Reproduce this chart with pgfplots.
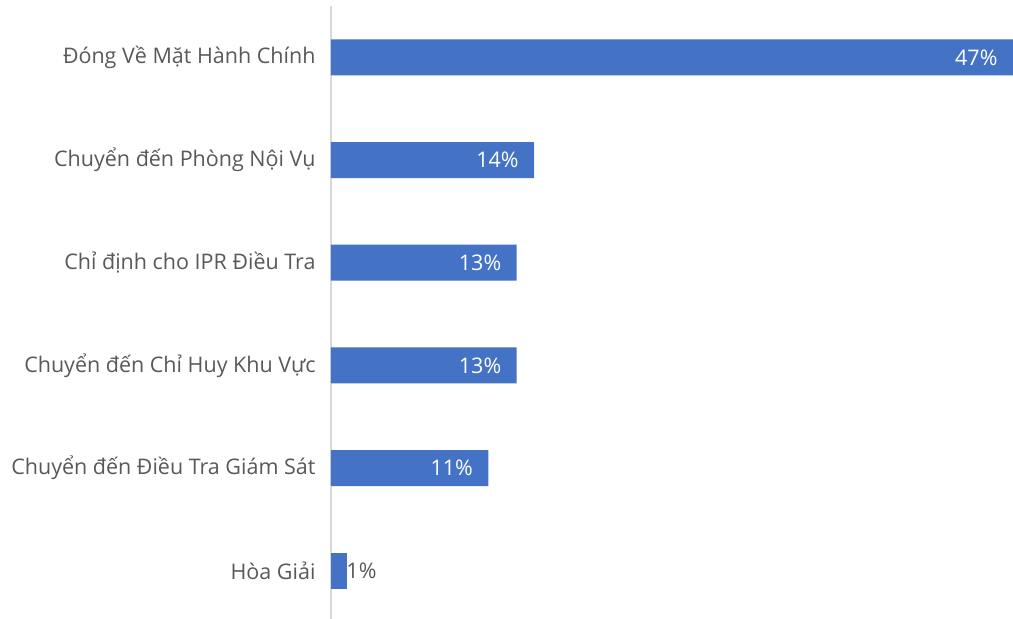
\documentclass[border=0pt]{standalone}
\usepackage{fontspec}
\setmainfont{Open Sans}
\usepackage{pgfplots}
\pgfplotsset{compat=1.18}
\definecolor{barblue}{HTML}{4472C4}
\definecolor{txtgray}{HTML}{595959}
\definecolor{axgray}{HTML}{D9D9D9}
\begin{document}
\begin{tikzpicture}
\begin{axis}[
  scale only axis,
  width=682pt, height=613pt,
  xbar, bar width=36pt, bar shift=0pt,
  xmin=0, xmax=47,
  ymin=-0.47, ymax=5.5,
  hide x axis,
  axis y line*=left,
  y axis line style={draw=axgray, line width=1.5pt, -},
  ytick={0,1,2,3,4,5},
  yticklabels={Hòa Giải, Chuyển đến Điều Tra Giám Sát, Chuyển đến Chỉ Huy Khu Vực, Chỉ định cho IPR Điều Tra, Chuyển đến Phòng Nội Vụ, Đóng Về Mặt Hành Chính},
  major tick length=0pt,
  yticklabel style={font=\fontsize{21.5}{24}\selectfont, text=txtgray, xshift=-12pt},
  clip=false,
]
\addplot[fill=barblue, draw=none,
  nodes near coords,
  nodes near coords style={anchor=east, xshift=-12pt, text=white, font=\fontsize{21.5}{24}\selectfont},
  point meta=explicit symbolic]
  coordinates {(10.85,1) [11\%] (12.8,2) [13\%] (12.8,3) [13\%] (14,4) [14\%] (47,5) [47\%]};
\addplot[fill=barblue, draw=none,
  nodes near coords,
  nodes near coords style={anchor=west, xshift=-4pt, text=txtgray, font=\fontsize{21.5}{24}\selectfont},
  point meta=explicit symbolic]
  coordinates {(1.1,0) [1\%]};
\end{axis}
\pgfresetboundingbox
\path ([xshift=-331pt]current axis.south west) rectangle ([yshift=6pt]current axis.north east);
\end{tikzpicture}
\end{document}
